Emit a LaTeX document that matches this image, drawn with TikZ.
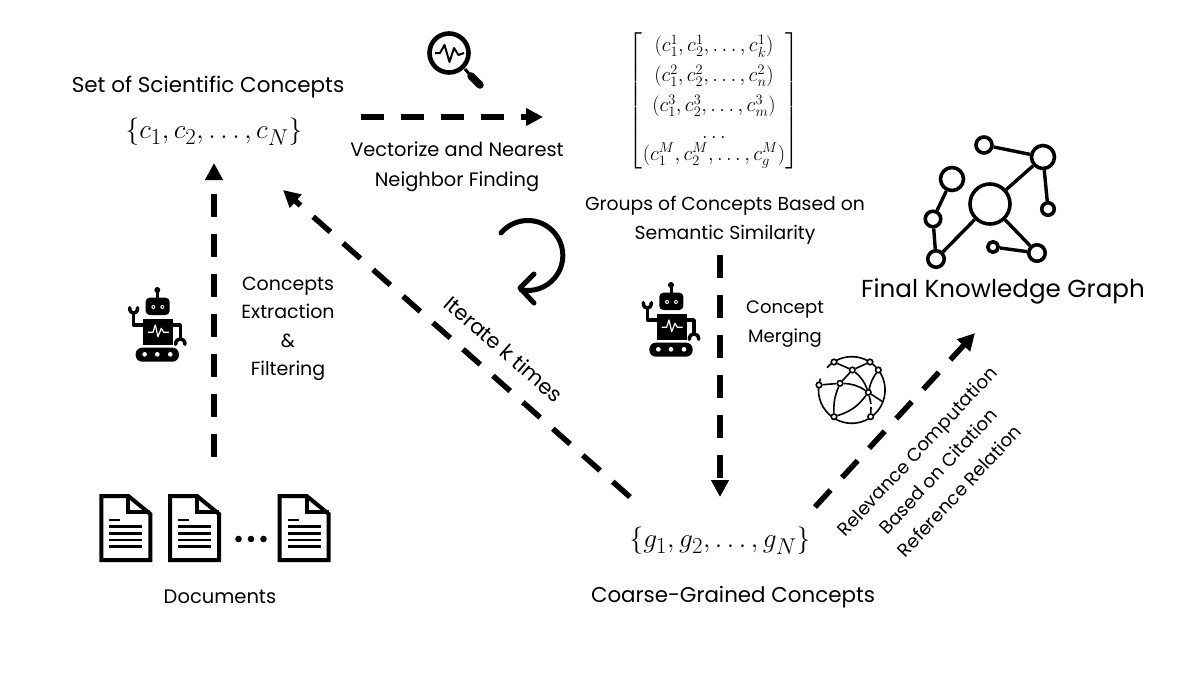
\documentclass[tikz,border=0pt]{standalone}
\usepackage{amsmath}
\usepackage{fontspec}
\setmainfont{Poppins}
\usetikzlibrary{arrows.meta,calc}
\tikzset{%
  lbl/.style = {inner sep=0pt, align=center, font=\fontsize{18.4}{29}\selectfont},
  bigmath/.style = {inner sep=0pt, scale=1.1, font=\fontsize{24.88}{30}\selectfont},
  dasharrow/.style = {line width=5.5pt, dash pattern=on 23pt off 17pt,
    -{Triangle[length=17pt,width=17pt,sep=0pt]}},
  kgdot/.style = {shape=circle, draw, fill=white, line width=3.6pt, inner sep=0pt},
  kgedge/.style = {line width=3.4pt},
  netdot/.style = {shape=circle, draw, fill=white, line width=1.6pt, inner sep=0pt, minimum size=5.5pt},
  netedge/.style = {line width=1.6pt},
  robot/.pic = {
    \fill (153,45) circle[radius=9];
    \draw[line width=3pt] (153,45) -- (153,70);
    \fill[rounded corners=4pt] (118,68) rectangle (190,120);
    \fill[white] (141,96) circle[radius=6] (168,96) circle[radius=6];
    \fill (141,96) circle[radius=3] (168,96) circle[radius=3];
    \fill (110,132) rectangle (200,210);
    \draw[white,line width=1.2pt,line join=round] (125,172) -- (140,172) -- (147,150) -- (155,185) -- (165,160) -- (172,172) -- (188,172);
    \draw[line width=3.5pt,line join=round] (110,150) -- (82,150) -- (82,115);
    \draw[line width=3.5pt,line cap=round] (70,98) .. controls (70,120) and (94,120) .. (94,98);
    \draw[line width=3.5pt,line join=round] (200,150) -- (222,150) -- (222,188);
    \draw[line width=3.5pt,line cap=round] (208,208) .. controls (208,186) and (236,186) .. (236,208);
    \fill[rounded corners=6.5pt] (88,218) rectangle (218,260);
    \fill[white] (115,238) circle[radius=7] (153,238) circle[radius=7] (192,238) circle[radius=7];
  },
  docicon/.pic = {
    \draw[line width=4pt,line join=miter] (2,2) -- (29,2) -- (51,20) -- (51,66) -- (2,66) -- cycle;
    \draw[line width=4pt] (29,2) -- (29,18) -- (51,18);
    \draw[line width=2.7pt] (10,26) -- (21,26);
    \foreach \yy in {32.7,39.3,46,52.7}
      \draw[line width=2.7pt] (10,\yy) -- (43,\yy);
  }
}
\begin{document}
\begin{tikzpicture}[x=1pt,y=-1pt]
  \useasboundingbox (0,0) rectangle (1200,675);

  \node[lbl,font=\fontsize{21.5}{29}\selectfont] (settitle) at (208,87) {Set of Scientific Concepts};
  \node[bigmath] (setvec) at (214,132) {$\{c_1, c_2, \ldots, c_N\}$};
  \node[lbl,font=\fontsize{19.4}{30}\selectfont] (vecnote) at (457,166.5) {Vectorize and Nearest\\Neighbor Finding};
  \node[inner sep=0pt,font=\fontsize{20.74}{24}\selectfont] (groupvec) at (714,101)
    {$\left[\renewcommand{\arraystretch}{1.08}\begin{array}{@{}c@{}}
      (c_1^1, c_2^1, \ldots, c_k^1)\\[4pt]
      (c_1^2, c_2^2, \ldots, c_n^2)\\[4pt]
      (c_1^3, c_2^3, \ldots, c_m^3)\\[1pt]
      \ldots\\[-4pt]
      (c_1^M, c_2^M, \ldots, c_g^M)
    \end{array}\right]$};
  \node[lbl,font=\fontsize{18.8}{29}\selectfont] (groupnote) at (725,220) {Groups of Concepts Based on\\Semantic Similarity};
  \node[lbl,font=\fontsize{19}{28.5}\selectfont] (extractnote) at (288,329) {Concepts\\Extraction\\\&\\Filtering};
  \node[lbl,font=\fontsize{18}{29}\selectfont] (mergenote) at (785,324) {Concept\\Merging};
  \node[lbl,font=\fontsize{19.5}{24}\selectfont] (docnote) at (220,597) {Documents};
  \node[bigmath] (gset) at (720,541) {$\{g_1, g_2, \ldots, g_N\}$};
  \node[lbl,font=\fontsize{21.4}{24}\selectfont] (coarsenote) at (733,597) {Coarse-Grained Concepts};
  \node[lbl,font=\fontsize{24.6}{26}\selectfont] (finalnote) at (1003,291) {Final Knowledge Graph};
  \node[lbl,font=\fontsize{21}{24}\selectfont,rotate=-41] (iternote) at (504,349) {Iterate k times};
  \node[lbl,rotate=47] (relnote) at (938,471) {Relevance Computation\\Based on Citation\\Reference Relation};

  \coordinate (docout) at (214,457);
  \coordinate (setin) at ($(setvec.center)+(0,31)$);
  \coordinate (vecout) at (361,117);
  \coordinate (vecin) at (543,117);
  \coordinate (mergeout) at (720,255);
  \coordinate (mergein) at (720,497);
  \coordinate (iterout) at (630,497);
  \coordinate (iterin) at (283,190);
  \coordinate (relout) at (815,507);
  \coordinate (relin) at (975,333);
  \draw[dasharrow] (docout) -- (setin);
  \draw[dasharrow] (vecout) -- (vecin);
  \draw[dasharrow] (mergeout) -- (mergein);
  \draw[dasharrow] (iterout) -- (iterin);
  \draw[dasharrow] (relout) -- (relin);

  \pic[scale=1/3] at (106.3,275) {robot};
  \pic[scale=1/3] at (620,270) {robot};

  \pic at (99.3,494) {docicon};
  \pic at (168,494) {docicon};
  \pic at (277.7,494) {docicon};
  \fill (238.5,539) circle[radius=3.3] (251,539) circle[radius=3.3] (263.5,539) circle[radius=3.3];

  \draw[line width=5pt,line cap=round] (501,233) arc[start angle=220,end angle=461,radius=35];
  \draw[line width=5pt,line cap=round,line join=round] (534,274) -- (520,288) -- (534,303);

  \draw[line width=4.6pt] (449,53) circle[radius=19.5];
  \draw[line width=3pt] (465,69) -- (471,76);
  \draw[line width=7.5pt,line cap=round] (471,76) -- (480,85);
  \draw[line width=2pt,line join=round] (435,53) -- (440,53) -- (444.5,45) -- (449.5,62) -- (454,48) -- (458.5,55) -- (464,53);

  \foreach \nm/\xx/\yy/\dd in {kgbig/990/204/40, kgne/1043/157/23, kgn/984/145/16, kgnw/952/179/23,
      kgw/933/219/15.5, kgsw/936/259/16.5, kge/1048/209/12.5, kgse/1037/253/16.5, kgs/993/247/10.5}
    \node[kgdot,minimum size=\dd pt] (\nm) at (\xx,\yy) {};
  \foreach \aa/\bb in {kgbig/kgne, kgne/kgn, kgne/kge, kgbig/kgse, kgse/kgs, kgbig/kgsw, kgsw/kgw, kgw/kgnw}
    \draw[kgedge] (\aa) -- (\bb);

  \draw[netedge] (827,367.7) arc[start angle=222,end angle=560,radius=33.3];
  \foreach \nm/\xx/\yy in {neta/834/362, netb/870/362, netc/852.3/370, netd/878.3/370, nete/819/385,
      netf/840/383.3, netg/868.3/392.3, neth/834/416.7, neti/870.7/416.7}
    \node[netdot] (\nm) at (\xx,\yy) {};
  \draw[netedge] (neta) -- (netc);
  \draw[netedge] (netb) -- (netc);
  \draw[netedge] (netc) -- (netf);
  \draw[netedge] (netc) to[bend left=15] (netg);
  \draw[netedge] (netd) to[bend right=10] (netg);
  \draw[netedge] (nete) -- (netf);
  \draw[netedge] (netf) to[bend left=15] (netg);
  \draw[netedge] (netf) to[bend right=12] (neth);
  \draw[netedge] (netg) to[bend left=18] (neth);
  \draw[netedge] (netg) -- (883,402);
  \draw[netedge] (netg) -- (871,404);
  \draw[netedge] (871,407) -- (neti);
\end{tikzpicture}
\end{document}
